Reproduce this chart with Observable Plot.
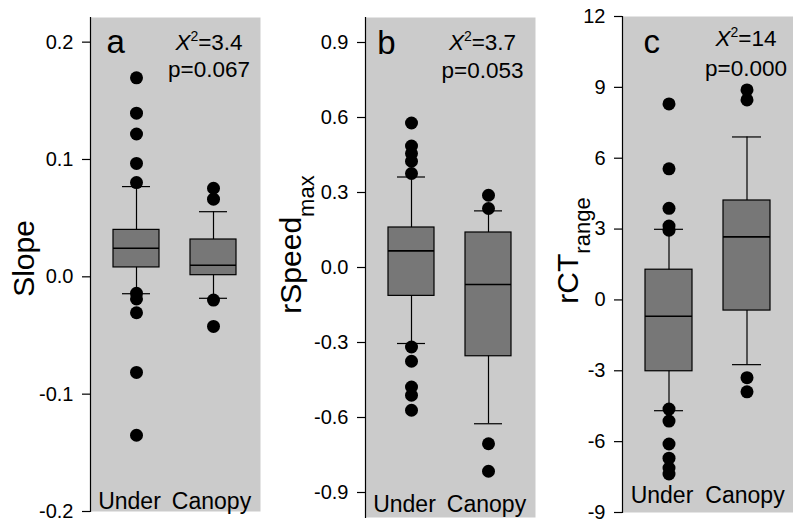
<!DOCTYPE html>
<html>
<head>
<meta charset="utf-8">
<script src="https://cdn.jsdelivr.net/npm/d3@7"></script>
<script src="https://cdn.jsdelivr.net/npm/@observablehq/plot@0.6"></script>
<style>
  html, body { margin: 0; padding: 0; background: #fff; }
  #wrap { position: relative; width: 793px; height: 524px; overflow: hidden; background: #fff; }
  #wrap svg { position: absolute; top: 0; }
</style>
</head>
<body>
<div id="wrap"></div>
<script>
const cats = ["Under", "Canopy"];

// Panel a: Slope
const slopeQ1 = [0.0080, 0.0014];
const slopeMed = [0.0243, 0.0098];
const slopeQ3 = [0.0400, 0.0318];
const slopeLow = [-0.0144, -0.0183];
const slopeHigh = [0.0769, 0.0555];
const slopeOutUnder = [0.1696, 0.1395, 0.1217, 0.0966, 0.0803, -0.0141, -0.0188, -0.0306, -0.0815, -0.1350];
const slopeOutCanopy = [0.0755, 0.0662, -0.0198, -0.0423];
const slopeTicks = [-0.2, -0.1, 0, 0.1, 0.2];

// Panel b: rSpeed_max
const speedQ1 = [-0.1135, -0.355];
const speedMed = [0.0665, -0.068];
const speedQ3 = [0.160, 0.140];
const speedLow = [-0.304, -0.625];
const speedHigh = [0.362, 0.2265];
const speedOutUnder = [0.578, 0.486, 0.456, 0.425, 0.376, -0.318, -0.375, -0.478, -0.511, -0.571];
const speedOutCanopy = [0.289, 0.236, -0.705, -0.815];
const speedTicks = [-0.9, -0.6, -0.3, 0, 0.3, 0.6, 0.9];

// Panel c: rCT_range
const ctQ1 = [-3.02, -0.45];
const ctMed = [-0.69, 2.67];
const ctQ3 = [1.28, 4.21];
const ctLow = [-4.69, -2.74];
const ctHigh = [2.99, 6.9];
const ctOutUnder = [8.30, 5.55, 3.88, 3.13, 2.95, -4.62, -5.13, -6.1, -6.7, -7.12, -7.37];
const ctOutCanopy = [8.89, 8.47, -3.29, -3.89];
const ctTicks = [-9, -6, -3, 0, 3, 6, 9, 12];

// Text
const panelLetters = ["a", "b", "c"];
const chiValues = ["3.4", "3.7", "14"];
const pValues = ["0.067", "0.053", "0.000"];
const yTitles = ["Slope", "rSpeed", "rCT"];
const ySubs = ["", "max", "range"];

const FONT = "'Liberation Sans', Arial, Helvetica, sans-serif";
const BG = "#cbcbcb";
const BOX = "#777777";

function panel(cfg) {
  const boxes = cats.map((c, i) => ({cat: c, q1: cfg.q1[i], med: cfg.med[i], q3: cfg.q3[i], lo: cfg.lo[i], hi: cfg.hi[i]}));
  const outs = [
    ...cfg.outU.map(v => ({cat: cats[0], v})),
    ...cfg.outC.map(v => ({cat: cats[1], v}))
  ];
  const svg = Plot.plot({
    width: cfg.width,
    height: 524,
    marginLeft: cfg.ml,
    marginRight: cfg.mr,
    marginTop: cfg.mt,
    marginBottom: cfg.mb,
    style: {fontFamily: FONT, background: "transparent", overflow: "visible", color: "black"},
    x: {domain: cats, paddingInner: 0.4, paddingOuter: 0.29, axis: null},
    y: {domain: cfg.domain, axis: null},
    marks: [
      Plot.frame({fill: BG, stroke: null}),
      Plot.frame({anchor: "left", stroke: "black", strokeWidth: 1.2}),
      Plot.axisY({ticks: cfg.ticks, tickFormat: cfg.fmt, tickSize: 8, tickPadding: 9, fontSize: 20, label: null, stroke: "black", strokeWidth: 1.2}),
      Plot.ruleX(boxes, {x: "cat", y1: "lo", y2: "hi", stroke: "black", strokeWidth: 1.2}),
      Plot.barY(boxes, {x: "cat", y1: "q1", y2: "q3", fill: BOX, stroke: "black", strokeWidth: 1.2}),
      Plot.tickY(boxes, {x: "cat", y: "med", stroke: "black", strokeWidth: 1.6}),
      Plot.tickY(boxes, {x: "cat", y: "hi", stroke: "black", strokeWidth: 1.2, insetLeft: 9, insetRight: 9}),
      Plot.tickY(boxes, {x: "cat", y: "lo", stroke: "black", strokeWidth: 1.2, insetLeft: 9, insetRight: 9}),
      Plot.dot(outs, {x: "cat", y: "v", r: 6.5, fill: "black", stroke: null}),
      // category labels
      Plot.text([cats[0]], {x: d => d, text: d => d, frameAnchor: "bottom", lineAnchor: "bottom", dy: cfg.catDy, dx: -7, fontSize: 23, fill: "black"}),
      Plot.text([cats[1]], {x: d => d, text: d => d, frameAnchor: "bottom", lineAnchor: "bottom", dy: cfg.catDy, dx: -2, fontSize: 23, fill: "black"}),
      // panel letter
      Plot.text([cfg.letter], {text: d => d, frameAnchor: "top-left", textAnchor: "start", lineAnchor: "bottom", dx: cfg.letterDx, dy: cfg.letterDy, fontSize: 33, fill: "black"}),
      // stats
      Plot.text(["X2=" + cfg.chi], {text: d => d, frameAnchor: "top-left", textAnchor: "middle", lineAnchor: "bottom", dx: cfg.statDx, dy: cfg.chiDy, fontSize: 22.5, fill: "black"}),
      Plot.text(["p=" + cfg.p], {text: d => d, frameAnchor: "top-left", textAnchor: "middle", lineAnchor: "bottom", dx: cfg.statDx, dy: cfg.pDy, fontSize: 22.5, fill: "black"}),
      // y title
      Plot.text([cfg.title], {text: d => d, frameAnchor: "left", rotate: -90, textAnchor: "middle", lineAnchor: "bottom", dx: cfg.titleDx, dy: cfg.titleDy, fontSize: 30, fill: "black"})
    ]
  });
  // rich text fix-ups: italic X with superscript 2, and subscripts on axis titles
  d3.select(svg).selectAll("text").each(function() {
    const t = this.textContent;
    if (t.startsWith("X2=")) {
      const el = d3.select(this);
      el.text(null);
      el.append("tspan").attr("font-style", "italic").text("X");
      el.append("tspan").attr("font-size", 14).attr("dy", -9).text("2");
      el.append("tspan").attr("dy", 9).text(t.slice(2));
    } else if (t === cfg.title && cfg.sub) {
      const el = d3.select(this);
      el.append("tspan").attr("font-size", 22).attr("dy", cfg.subDy).text(cfg.sub);
    }
  });
  svg.style.left = cfg.left + "px";
  return svg;
}

const wrap = document.getElementById("wrap");
const fmt1 = d => d.toFixed(1);
const fmt0 = d => String(d);

wrap.appendChild(panel({
  left: 0, width: 262, ml: 90, mr: 2, mt: 17, mb: 13,
  domain: [-0.2, 0.221], ticks: slopeTicks, fmt: fmt1,
  q1: slopeQ1, med: slopeMed, q3: slopeQ3, lo: slopeLow, hi: slopeHigh,
  outU: slopeOutUnder, outC: slopeOutCanopy,
  letter: panelLetters[0], letterDx: 16, letterDy: 35.5,
  chi: chiValues[0], p: pValues[0], statDx: 118.5, chiDy: 32, pDy: 59,
  title: yTitles[0], sub: ySubs[0], titleDx: -56.7, titleDy: -6, subDy: 0,
  catDy: -3
}));

wrap.appendChild(panel({
  left: 262, width: 273, ml: 103, mr: 0, mt: 17, mb: 7,
  domain: [-1, 1], ticks: speedTicks, fmt: fmt1,
  q1: speedQ1, med: speedMed, q3: speedQ3, lo: speedLow, hi: speedHigh,
  outU: speedOutUnder, outC: speedOutCanopy,
  letter: panelLetters[1], letterDx: 11.7, letterDy: 36.3,
  chi: chiValues[1], p: pValues[1], statDx: 117, chiDy: 32, pDy: 60,
  title: yTitles[1], sub: ySubs[1], titleDx: -65, titleDy: -23, subDy: 13,
  catDy: -6
}));

wrap.appendChild(panel({
  left: 535, width: 258, ml: 87, mr: 0, mt: 16, mb: 12,
  domain: [-9, 12], ticks: ctTicks, fmt: fmt0,
  q1: ctQ1, med: ctMed, q3: ctQ3, lo: ctLow, hi: ctHigh,
  outU: ctOutUnder, outC: ctOutCanopy,
  letter: panelLetters[2], letterDx: 21, letterDy: 36.7,
  chi: chiValues[2], p: pValues[2], statDx: 123.5, chiDy: 29, pDy: 59,
  title: yTitles[2], sub: ySubs[2], titleDx: -45, titleDy: -14, subDy: 12,
  catDy: -10
}));
</script>
</body>
</html>
